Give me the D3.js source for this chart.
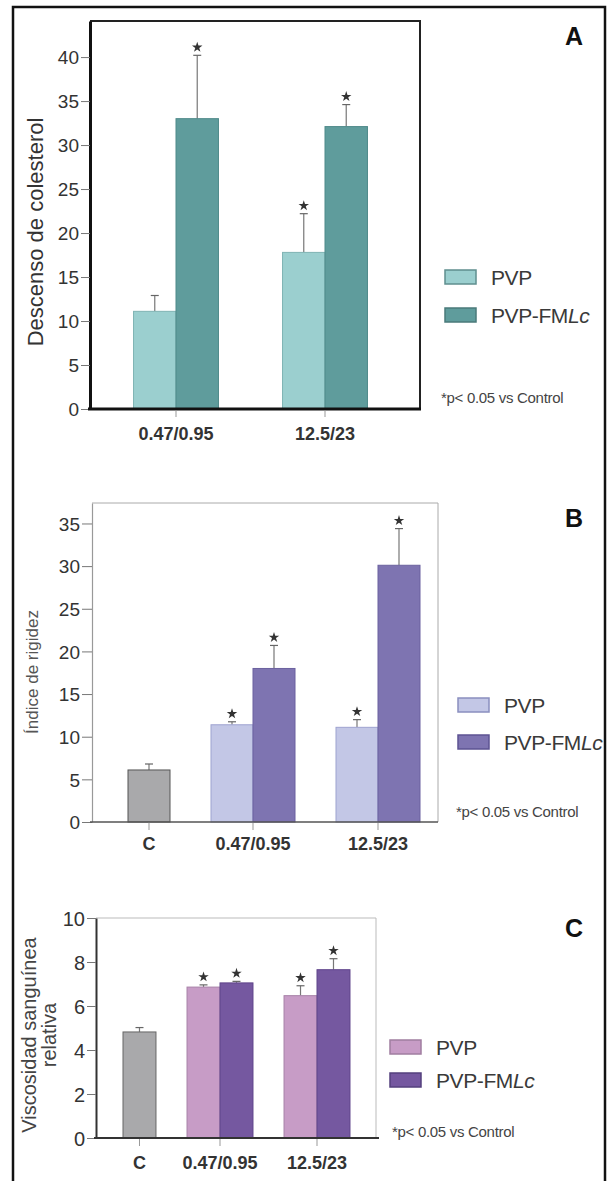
<!DOCTYPE html>
<html>
<head>
<meta charset="utf-8">
<script src="https://cdn.jsdelivr.net/npm/d3@7"></script>
<style>
  body { margin: 0; background: #fff; }
  svg { display: block; font-family: "Liberation Sans", Arial, sans-serif; }
</style>
</head>
<body>
<svg id="fig" width="607" height="1181"></svg>
<script>
const series = ["PVP", "PVP-FMLc"];

// panel A: descenso de colesterol
const groupsA = ["0.47/0.95", "12.5/23"];
const pvpA = [11.1, 17.8];
const pvpErrA = [1.8, 4.4];
const pvpSigA = [false, true];
const fmlcA = [33.0, 32.1];
const fmlcErrA = [7.2, 2.5];
const fmlcSigA = [true, true];
const ticksA = [0, 5, 10, 15, 20, 25, 30, 35, 40];

// panel B: indice de rigidez
const groupsB = ["C", "0.47/0.95", "12.5/23"];
const controlB = [6.1];
const controlErrB = [0.7];
const pvpB = [11.4, 11.1];
const pvpErrB = [0.35, 0.9];
const fmlcB = [18.0, 30.1];
const fmlcErrB = [2.7, 4.3];
const sigB = [true, true];
const ticksB = [0, 5, 10, 15, 20, 25, 30, 35];

// panel C: viscosidad sanguinea relativa
const groupsC = ["C", "0.47/0.95", "12.5/23"];
const controlC = [4.82];
const controlErrC = [0.2];
const pvpC = [6.86, 6.47];
const pvpErrC = [0.1, 0.45];
const fmlcC = [7.05, 7.65];
const fmlcErrC = [0.07, 0.5];
const sigC = [true, true];
const ticksC = [0, 2, 4, 6, 8, 10];

const svg = d3.select("#fig");

// outer frame of the figure
svg.append("rect")
    .attr("x", 13).attr("y", 7)
    .attr("width", 592).attr("height", 1200)
    .attr("fill", "none")
    .attr("stroke", "#111")
    .attr("stroke-width", 2.5);

function drawPanel(p) {
    const g = svg.append("g");
    const y = d3.scaleLinear().domain([0, p.yMax]).range([p.bottom, p.top]);
    const x = d3.scaleBand()
        .domain(p.groups)
        .range(p.band)
        .paddingInner(p.pad)
        .paddingOuter(p.pad / 2);
    const sub = d3.scaleBand().domain(series).range([0, x.bandwidth()]);

    // build the list of bars
    const bars = [];
    const doses = p.groups.filter(d => d !== "C");
    if (p.control) {
        bars.push({
            cat: "C", x0: x("C") + x.bandwidth() - sub.bandwidth(),
            v: p.control[0], e: p.controlErr[0], sig: false, fill: p.cColor, stroke: p.cStroke
        });
    }
    doses.forEach((d, i) => {
        bars.push({ cat: d, x0: x(d) + sub("PVP"), v: p.pvp[i], e: p.pvpErr[i], sig: p.pvpSig[i], fill: p.colors[0], stroke: p.strokes[0] });
        bars.push({ cat: d, x0: x(d) + sub("PVP-FMLc"), v: p.fmlc[i], e: p.fmlcErr[i], sig: p.fmlcSig[i], fill: p.colors[1], stroke: p.strokes[1] });
    });
    const bw = sub.bandwidth();

    // plot frame (top + right)
    g.append("path")
        .attr("d", `M${p.left},${p.top}H${p.right}V${p.bottom}`)
        .attr("fill", "none")
        .attr("stroke", p.frameColor)
        .attr("stroke-width", p.frameWidth);

    // error bars
    const eb = g.selectAll(".err").data(bars).enter().append("g");
    eb.append("line")
        .attr("x1", d => d.x0 + bw / 2).attr("x2", d => d.x0 + bw / 2)
        .attr("y1", d => y(d.v)).attr("y2", d => y(d.v + d.e))
        .attr("stroke", "#777").attr("stroke-width", 1.2);
    eb.append("line")
        .attr("x1", d => d.x0 + bw / 2 - 4).attr("x2", d => d.x0 + bw / 2 + 4)
        .attr("y1", d => y(d.v + d.e)).attr("y2", d => y(d.v + d.e))
        .attr("stroke", "#666").attr("stroke-width", 1.2);

    // bars
    g.selectAll(".bar").data(bars).enter().append("rect")
        .attr("x", d => d.x0)
        .attr("y", d => y(d.v))
        .attr("width", bw)
        .attr("height", d => y(0) - y(d.v))
        .attr("fill", d => d.fill)
        .attr("stroke", d => d.stroke)
        .attr("stroke-width", 1);

    // significance stars
    g.selectAll(".star").data(bars.filter(d => d.sig)).enter().append("path")
        .attr("d", d3.symbol(d3.symbolStar, 34))
        .attr("transform", d => `translate(${d.x0 + bw / 2},${y(d.v + d.e) - 8})`)
        .attr("fill", "#333");

    // y axis
    const ax = g.append("g")
        .attr("transform", `translate(${p.left},0)`)
        .call(d3.axisLeft(y).tickValues(p.ticks).tickSize(p.tickSize).tickSizeOuter(0).tickPadding(2));
    ax.select(".domain").attr("stroke", p.axisColor).attr("stroke-width", p.axisWidth);
    ax.selectAll(".tick line").attr("stroke", "#777");
    ax.selectAll(".tick text")
        .attr("font-size", p.tickFont)
        .attr("fill", "#333")
        .attr("dy", "0.36em")
        .attr("font-family", "Liberation Sans, Arial, sans-serif");

    // x axis line
    g.append("line")
        .attr("x1", p.left - 2).attr("x2", p.xEnd)
        .attr("y1", p.bottom).attr("y2", p.bottom)
        .attr("stroke", p.baseColor)
        .attr("stroke-width", p.baseWidth);

    // category ticks and labels
    const catX = c => c === "C" ? x(c) + x.bandwidth() - bw / 2 : x(c) + x.bandwidth() / 2;
    g.selectAll(".xt").data(p.groups).enter().append("line")
        .attr("x1", catX).attr("x2", catX)
        .attr("y1", p.bottom + p.baseWidth / 2).attr("y2", p.bottom + 8)
        .attr("stroke", "#999").attr("stroke-width", 1);
    g.selectAll(".xl").data(p.groups).enter().append("text")
        .attr("x", catX)
        .attr("y", p.xLabelY)
        .attr("text-anchor", "middle")
        .attr("font-size", 18)
        .attr("font-weight", "bold")
        .attr("fill", "#333")
        .text(d => d);

    // y title
    const yt = g.append("text")
        .attr("transform", `translate(${p.titleX},${p.titleY}) rotate(-90)`)
        .attr("text-anchor", "middle")
        .attr("font-size", p.titleFont)
        .attr("fill", p.titleColor);
    p.title.forEach((t, i) => {
        yt.append("tspan").attr("x", 0).attr("dy", i === 0 ? 0 : p.titleFont * 1.0).text(t);
    });

    // panel letter
    g.append("text")
        .attr("x", 574).attr("y", p.letterY)
        .attr("text-anchor", "middle")
        .attr("font-size", 25)
        .attr("font-weight", "bold")
        .attr("fill", "#111")
        .text(p.letter);

    // legend
    const lg = g.append("g");
    series.forEach((s, i) => {
        lg.append("rect")
            .attr("x", p.legX).attr("y", p.legY[i])
            .attr("width", 31).attr("height", 14)
            .attr("fill", p.colors[i])
            .attr("stroke", p.legStrokes[i])
            .attr("stroke-width", 1.5);
        const t = lg.append("text")
            .attr("x", p.legX + 46).attr("y", p.legY[i] + 15)
            .attr("font-size", 21)
            .attr("letter-spacing", -0.4)
            .attr("fill", "#3a3a3a");
        if (s === "PVP-FMLc") {
            t.append("tspan").text("PVP-FM");
            t.append("tspan").attr("font-style", "italic").text("Lc");
        } else {
            t.text(s);
        }
    });
    lg.append("text")
        .attr("x", p.noteX).attr("y", p.noteY)
        .attr("font-size", 15)
        .attr("letter-spacing", -0.3)
        .attr("fill", "#444")
        .text("*p< 0.05 vs Control");
}

drawPanel({
    groups: groupsA, pvp: pvpA, pvpErr: pvpErrA, pvpSig: pvpSigA,
    fmlc: fmlcA, fmlcErr: fmlcErrA, fmlcSig: fmlcSigA, ticks: ticksA,
    yMax: 44.1, top: 21, bottom: 409, left: 90, right: 420, xEnd: 421,
    band: [101.5, 399.5], pad: 0.43,
    colors: ["#9bcfcf", "#5f9c9c"], strokes: ["#7fb3b3", "#4f8a8a"], legStrokes: ["#5f8f8f", "#4a7a7a"],
    frameColor: "#222", frameWidth: 2, axisColor: "#111", axisWidth: 3, baseColor: "#111", baseWidth: 3,
    tickSize: 9, tickFont: 19, xLabelY: 440,
    title: ["Descenso de colesterol"], titleX: 43, titleY: 232, titleFont: 22, titleColor: "#333",
    letter: "A", letterY: 45,
    legX: 445, legY: [270, 308], noteX: 441, noteY: 403
});

drawPanel({
    groups: groupsB, control: controlB, controlErr: controlErrB,
    cColor: "#a9a9ab", cStroke: "#555",
    pvp: pvpB, pvpErr: pvpErrB, pvpSig: sigB,
    fmlc: fmlcB, fmlcErr: fmlcErrB, fmlcSig: sigB, ticks: ticksB,
    yMax: 37.4, top: 503, bottom: 822, left: 92, right: 438, xEnd: 438,
    band: [65.5, 440.5], pad: 0.328,
    colors: ["#c3c7e6", "#7e74b1"], strokes: ["#9ea3d0", "#6b619f"], legStrokes: ["#8a8fbf", "#5d5393"],
    frameColor: "#aaa", frameWidth: 1, axisColor: "#999", axisWidth: 1.2, baseColor: "#555", baseWidth: 1.5,
    tickSize: 10, tickFont: 19, xLabelY: 850,
    title: ["Índice de rigidez"], titleX: 38, titleY: 672, titleFont: 17, titleColor: "#555",
    letter: "B", letterY: 527,
    legX: 458, legY: [698, 735], noteX: 456, noteY: 817
});

drawPanel({
    groups: groupsC, control: controlC, controlErr: controlErrC,
    cColor: "#a9a9ab", cStroke: "#666",
    pvp: pvpC, pvpErr: pvpErrC, pvpSig: sigC,
    fmlc: fmlcC, fmlcErr: fmlcErrC, fmlcSig: sigC, ticks: ticksC,
    yMax: 10, top: 918, bottom: 1138, left: 96, right: 376, xEnd: 379,
    band: [74.5, 365.5], pad: 0.32,
    colors: ["#c79cc6", "#7558a0"], strokes: ["#a882a8", "#5f448a"], legStrokes: ["#a07ea0", "#54407e"],
    frameColor: "#bbb", frameWidth: 1, axisColor: "#333", axisWidth: 2, baseColor: "#333", baseWidth: 2,
    tickSize: 9, tickFont: 20, xLabelY: 1169,
    title: ["Viscosidad sanguínea", "relativa"], titleX: 36, titleY: 1035, titleFont: 20, titleColor: "#444",
    letter: "C", letterY: 937,
    legX: 390, legY: [1040, 1073], noteX: 392, noteY: 1137
});
</script>
</body>
</html>
